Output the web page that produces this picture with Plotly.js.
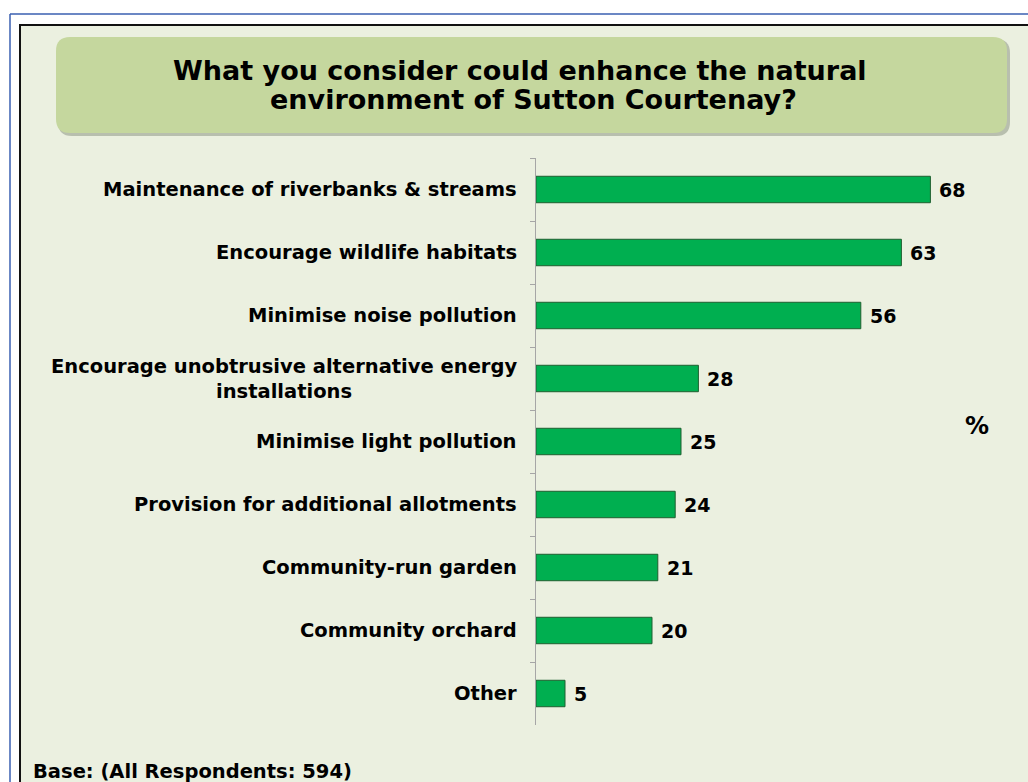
<!DOCTYPE html>
<html>
<head>
<meta charset="utf-8">
<script src="https://cdn.plot.ly/plotly-3.0.1.min.js"></script>
<style>html,body{margin:0;padding:0;background:#fff;}</style>
</head>
<body>
<div id="chart" style="width:1028px;height:782px;"></div>
<script>
// ---- data ----
const categories = [
  "Maintenance of riverbanks & streams",
  "Encourage wildlife habitats",
  "Minimise noise pollution",
  "Encourage unobtrusive alternative energy<br>installations",
  "Minimise light pollution",
  "Provision for additional allotments",
  "Community-run garden",
  "Community orchard",
  "Other"
];
const values = [68, 63, 56, 28, 25, 24, 21, 20, 5];
const titleLines = ["What you consider could enhance the natural", "environment of Sutton Courtenay?"];
const unitLabel = "%";
const baseNote = "Base: (All Respondents: 594)";

// ---- geometry helpers ----
const W = 1028, H = 782;
const M = {l: 536, r: 28, t: 158, b: 57};
const pw = W - M.l - M.r, ph = H - M.t - M.b;
const px = x => (x - M.l) / pw;
const py = y => (H - M.b - y) / ph;
const FONT = "DejaVu Sans";

function roundRect(x0, y0, x1, y1, r) {
  const p = [];
  p.push(`M ${px(x0 + r)},${py(y0)}`);
  p.push(`L ${px(x1 - r)},${py(y0)}`);
  p.push(`Q ${px(x1)},${py(y0)} ${px(x1)},${py(y0 + r)}`);
  p.push(`L ${px(x1)},${py(y1 - r)}`);
  p.push(`Q ${px(x1)},${py(y1)} ${px(x1 - r)},${py(y1)}`);
  p.push(`L ${px(x0 + r)},${py(y1)}`);
  p.push(`Q ${px(x0)},${py(y1)} ${px(x0)},${py(y1 - r)}`);
  p.push(`L ${px(x0)},${py(y0 + r)}`);
  p.push(`Q ${px(x0)},${py(y0)} ${px(x0 + r)},${py(y0)}`);
  p.push('Z');
  return p.join(' ');
}

const shapes = [
  {type: 'rect', xref: 'paper', yref: 'paper', layer: 'below',
   x0: px(20), x1: px(1040), y0: py(25), y1: py(800),
   fillcolor: '#EBF0E0', line: {color: '#111111', width: 2}},
  {type: 'line', xref: 'paper', yref: 'paper', layer: 'below',
   x0: px(10), x1: px(1040), y0: py(14), y1: py(14), line: {color: '#3A5FB0', width: 1.5}},
  {type: 'line', xref: 'paper', yref: 'paper', layer: 'below',
   x0: px(10), x1: px(10), y0: py(14), y1: py(800), line: {color: '#3A5FB0', width: 1.5}},
  {type: 'path', xref: 'paper', yref: 'paper', layer: 'below',
   path: roundRect(58, 39, 1010, 136, 14), fillcolor: 'rgba(90,100,80,0.35)', line: {width: 0}},
  {type: 'path', xref: 'paper', yref: 'paper', layer: 'below',
   path: roundRect(56, 37, 1007, 133, 14), fillcolor: '#C5D79E', line: {width: 0}}
];

const LBL = {family: FONT, size: 19.5, color: '#000', weight: 'bold'};
const annotations = [];
categories.forEach((c, i) => {
  annotations.push({x: 0, y: c, xref: 'x', yref: 'y', text: c, showarrow: false,
    xanchor: 'right', yanchor: 'middle', xshift: -17, align: 'center', font: LBL});
  annotations.push({x: values[i], y: c, xref: 'x', yref: 'y', text: String(values[i]),
    showarrow: false, xanchor: 'left', yanchor: 'middle', xshift: 7,
    font: {family: FONT, size: 19, color: '#000', weight: 'bold'}});
});
annotations.push({xref: 'paper', yref: 'paper', x: px(520), y: py(70), text: titleLines[0],
  showarrow: false, xanchor: 'center', yanchor: 'middle',
  font: {family: FONT, size: 27, color: '#000', weight: 'bold'}});
annotations.push({xref: 'paper', yref: 'paper', x: px(533), y: py(100), text: titleLines[1],
  showarrow: false, xanchor: 'center', yanchor: 'middle',
  font: {family: FONT, size: 27, color: '#000', weight: 'bold'}});
annotations.push({xref: 'paper', yref: 'paper', x: px(977), y: py(426), text: unitLabel,
  showarrow: false, xanchor: 'center', yanchor: 'middle',
  font: {family: FONT, size: 24, color: '#000', weight: 'bold'}});
annotations.push({xref: 'paper', yref: 'paper', x: px(31), y: py(771), text: baseNote,
  showarrow: false, xanchor: 'left', yanchor: 'middle', font: LBL});

const trace = {
  type: 'bar', orientation: 'h', x: values, y: categories,
  marker: {color: '#00AF50', line: {color: '#1F5F30', width: 1}},
  width: 0.42, hoverinfo: 'skip'
};

const layout = {
  width: W, height: H,
  margin: M,
  paper_bgcolor: '#FFFFFF', plot_bgcolor: 'rgba(0,0,0,0)',
  showlegend: false,
  xaxis: {range: [0, 80], showgrid: false, zeroline: false, showticklabels: false,
          showline: false, ticks: '', fixedrange: true},
  yaxis: {type: 'category', categoryarray: categories, categoryorder: 'array',
          range: [8.5, -0.5], showticklabels: false, showgrid: false, zeroline: false,
          showline: true, linecolor: '#A6A6A6', linewidth: 1.5,
          ticks: 'outside', tickson: 'boundaries', ticklen: 5, tickcolor: '#A6A6A6', tickwidth: 1},
  shapes: shapes,
  annotations: annotations,
  font: {family: FONT}
};

Plotly.newPlot('chart', [trace], layout, {displayModeBar: false, staticPlot: true});
</script>
</body>
</html>
